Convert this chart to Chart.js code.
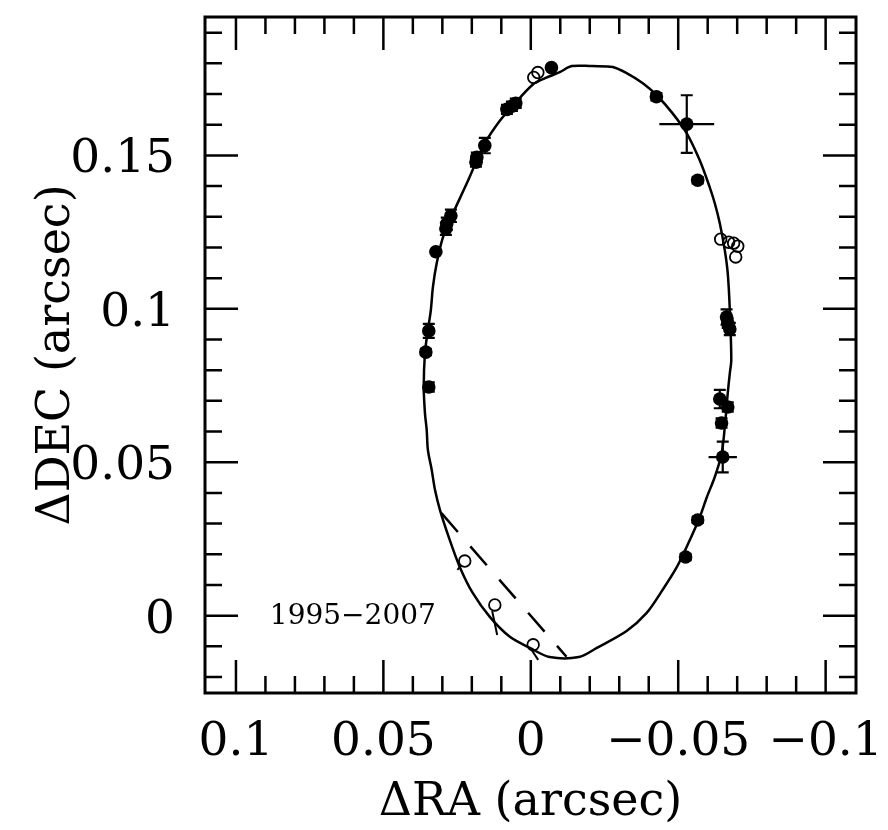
<!DOCTYPE html>
<html>
<head>
<meta charset="utf-8">
<title>Relative orbit</title>
<script src="https://cdn.jsdelivr.net/npm/chart.js@4.4.1/dist/chart.umd.min.js"></script>
<style>
  html, body { margin: 0; padding: 0; background: #fff; }
  canvas { display: block; }
</style>
</head>
<body>
<canvas id="orbitChart" width="888" height="830"></canvas>
<script>
// fitted orbit, traced around the ellipse (arcsec), last point closes the loop
const orbitRA = [-0.0207, -0.0139, -0.0098, -0.0047, -0.0007, 0.0061, 0.0105, 0.0156, 0.0183, 0.0217,
  0.0264, 0.0298, 0.0319, 0.0332, 0.0339, 0.0349, 0.0359, 0.0363, 0.0359, 0.0353,
  0.0349, 0.0336, 0.0325, 0.0308, 0.0275, 0.0241, 0.0197, 0.0139, 0.0071, 0.0003,
  -0.0064, -0.0163, -0.0224, -0.0325, -0.0393, -0.0447, -0.0495, -0.0539, -0.0573, -0.0597,
  -0.0624, -0.0647, -0.0658, -0.0668, -0.0675, -0.0680, -0.0675, -0.0668, -0.0658, -0.0641,
  -0.0624, -0.0607, -0.0573, -0.0529, -0.0481, -0.0427, -0.0380, -0.0325, -0.0278, -0.0207];
const orbitDEC = [0.1791, 0.1791, 0.1771, 0.1751, 0.1731, 0.1662, 0.1613, 0.1540, 0.1484, 0.1409,
  0.1311, 0.1233, 0.1149, 0.1071, 0.0996, 0.0931, 0.0856, 0.0745, 0.0660, 0.0605,
  0.0540, 0.0475, 0.0410, 0.0344, 0.0247, 0.0159, 0.0074, -0.0004, -0.0069, -0.0105,
  -0.0135, -0.0135, -0.0105, -0.0050, 0.0009, 0.0084, 0.0158, 0.0246, 0.0321, 0.0386,
  0.0452, 0.0527, 0.0615, 0.0725, 0.0790, 0.0833, 0.0996, 0.1116, 0.1191, 0.1279,
  0.1344, 0.1396, 0.1484, 0.1572, 0.1637, 0.1696, 0.1735, 0.1768, 0.1788, 0.1791];

// filled symbols with their errors
const filledRA = [-0.0070, 0.0081, 0.0064, 0.0051, 0.0156, 0.0183, 0.0186, 0.0271, 0.0285, 0.0288,
  0.0322, 0.0346, 0.0356, 0.0346, -0.0426, -0.0529, -0.0566, -0.0664, -0.0668, -0.0675,
  -0.0641, -0.0668, -0.0647, -0.0651, -0.0566, -0.0525];
const filledDEC = [0.1786, 0.1650, 0.1660, 0.1670, 0.1532, 0.1494, 0.1478, 0.1303, 0.1277, 0.1261,
  0.1186, 0.0928, 0.0859, 0.0745, 0.1691, 0.1602, 0.1419, 0.0973, 0.0953, 0.0934,
  0.0706, 0.0680, 0.0628, 0.0517, 0.0312, 0.0191];
const errRA = [0, 0.0015, 0.0015, 0.0015, 0.0015, 0.0012, 0.0012, 0.002, 0.002, 0.002,
  0, 0.001, 0.001, 0.0012, 0.0012, 0.0093, 0.001, 0.0015, 0.0012, 0.0015,
  0.002, 0.0015, 0.0015, 0.0048, 0.001, 0.001];
const errDEC = [0, 0.0015, 0.0015, 0.0015, 0.0025, 0.0015, 0.0015, 0.002, 0.002, 0.002,
  0, 0.0023, 0.001, 0.0015, 0.0012, 0.0094, 0.001, 0.0025, 0.0015, 0.002,
  0.003, 0.0015, 0.0015, 0.005, 0.001, 0.001];

// open symbols
const openRA = [-0.0010, -0.0024, -0.0644, -0.0671, -0.0688, -0.0702, -0.0695, 0.0224, 0.0122, -0.0008];
const openDEC = [0.1754, 0.1770, 0.1227, 0.1217, 0.1214, 0.1204, 0.1169, 0.0178, 0.0035, -0.0095];

// short offset lines hanging off the lower open symbols: [start, end]
const segRA = [[0.0235, 0.0249], [0.0131, 0.0114], [-0.0003, -0.0025]];
const segDEC = [[0.0165, 0.0149], [0.0015, -0.0063], [-0.0112, -0.0144]];

// dashed line near periastron
const dashRA = [0.0303, -0.0121];
const dashDEC = [0.0334, -0.0134];

const raTicks = [0.1, 0.05, 0, -0.05, -0.1];
const decTicks = [0, 0.05, 0.1, 0.15];

const epochLabel = '1995\u22122007';
const epochRA = 0.0885;
const epochDEC = -0.0004;

const serif = 'DejaVu Serif';
const pts = (xs, ys) => xs.map((v, i) => ({ x: v, y: ys[i] }));
const fmt = v => (v === 0 ? '0' : String(v).replace('-', '\u2212'));

// box with inward major/minor ticks on all four sides, plus the tick numbers
const frameTicks = {
  id: 'frameTicks',
  afterDatasetsDraw(chart) {
    const { ctx, chartArea: a, scales: { x, y } } = chart;
    ctx.save();
    ctx.strokeStyle = '#000';
    ctx.lineWidth = 2.5;
    ctx.beginPath();
    for (let i = -10; i <= 10; i++) {
      const px = x.getPixelForValue(i / 100);
      const len = i % 5 === 0 ? 33 : 17;
      ctx.moveTo(px, a.bottom); ctx.lineTo(px, a.bottom - len);
      ctx.moveTo(px, a.top); ctx.lineTo(px, a.top + len);
    }
    for (let i = -2; i <= 19; i++) {
      const py = y.getPixelForValue(i / 100);
      const len = i % 5 === 0 ? 33 : 17;
      ctx.moveTo(a.left, py); ctx.lineTo(a.left + len, py);
      ctx.moveTo(a.right, py); ctx.lineTo(a.right - len, py);
    }
    ctx.stroke();
    ctx.lineWidth = 3;
    ctx.strokeRect(a.left, a.top, a.right - a.left, a.bottom - a.top);

    ctx.fillStyle = '#000';
    ctx.font = '47px "' + serif + '"';
    ctx.textBaseline = 'alphabetic';
    ctx.textAlign = 'center';
    raTicks.forEach(v => ctx.fillText(fmt(v), x.getPixelForValue(v), a.bottom + 62));
    ctx.textAlign = 'right';
    decTicks.forEach(v => ctx.fillText(fmt(v), a.left - 30, y.getPixelForValue(v) + 17));

    ctx.font = '28px "' + serif + '"';
    ctx.textAlign = 'left';
    ctx.textBaseline = 'middle';
    ctx.fillText(epochLabel, x.getPixelForValue(epochRA), y.getPixelForValue(epochDEC));
    ctx.restore();
  }
};

// error bars for the filled symbols
const errorBars = {
  id: 'errorBars',
  beforeDatasetsDraw(chart) {
    const { ctx, scales: { x, y } } = chart;
    ctx.save();
    ctx.strokeStyle = '#000';
    ctx.lineWidth = 2.2;
    ctx.beginPath();
    filledRA.forEach((ra, i) => {
      const px = x.getPixelForValue(ra);
      const py = y.getPixelForValue(filledDEC[i]);
      if (errRA[i] > 0) {
        ctx.moveTo(x.getPixelForValue(ra - errRA[i]), py);
        ctx.lineTo(x.getPixelForValue(ra + errRA[i]), py);
      }
      if (errDEC[i] > 0) {
        const y0 = y.getPixelForValue(filledDEC[i] - errDEC[i]);
        const y1 = y.getPixelForValue(filledDEC[i] + errDEC[i]);
        ctx.moveTo(px, y0); ctx.lineTo(px, y1);
        ctx.moveTo(px - 6, y0); ctx.lineTo(px + 6, y0);
        ctx.moveTo(px - 6, y1); ctx.lineTo(px + 6, y1);
      }
    });
    ctx.stroke();
    ctx.restore();
  }
};

const lineSet = (data, extra) => Object.assign({
  type: 'line', data, borderColor: '#000', borderWidth: 2.5, pointRadius: 0,
  fill: false, tension: 0
}, extra);

const datasets = [
  lineSet(pts(orbitRA, orbitDEC), { tension: 0.3 }),
  lineSet(pts(dashRA, dashDEC), { borderDash: [25, 19] }),
  ...segRA.map((s, i) => lineSet(pts(s, segDEC[i]), { borderWidth: 2 })),
  {
    type: 'scatter', data: pts(openRA, openDEC), pointRadius: 5.8, pointBorderWidth: 1.8,
    pointBackgroundColor: 'rgba(0,0,0,0)', pointBorderColor: '#000'
  },
  {
    type: 'scatter', data: pts(filledRA, filledDEC), pointRadius: 6.8, pointBorderWidth: 0,
    pointBackgroundColor: '#000', pointBorderColor: '#000'
  }
];

new Chart(document.getElementById('orbitChart').getContext('2d'), {
  data: { datasets },
  plugins: [errorBars, frameTicks],
  options: {
    responsive: false,
    animation: false,
    layout: { padding: { top: 17, right: 32, left: 0, bottom: 0 } },
    plugins: { legend: { display: false }, tooltip: { enabled: false } },
    scales: {
      x: {
        type: 'linear', reverse: true, min: -0.1103, max: 0.1105,
        grid: { display: false }, border: { display: false },
        afterFit(s) { s.height = 137; },
        afterBuildTicks(s) { s.ticks = raTicks.map(v => ({ value: v })); },
        ticks: { display: false },
        title: {
          display: true, text: '\u0394RA (arcsec)', color: '#000',
          font: { family: serif, size: 46, lineHeight: 1 }, padding: { top: 0, bottom: 4 }
        }
      },
      y: {
        type: 'linear', min: -0.0252, max: 0.1951,
        grid: { display: false }, border: { display: false },
        afterFit(s) { s.width = 205; },
        afterBuildTicks(s) { s.ticks = decTicks.map(v => ({ value: v })); },
        ticks: { display: false },
        title: {
          display: true, text: '\u0394DEC (arcsec)', color: '#000',
          font: { family: serif, size: 46, lineHeight: 1 }, padding: { top: 34, bottom: 0 }
        }
      }
    }
  }
});
</script>
</body>
</html>
